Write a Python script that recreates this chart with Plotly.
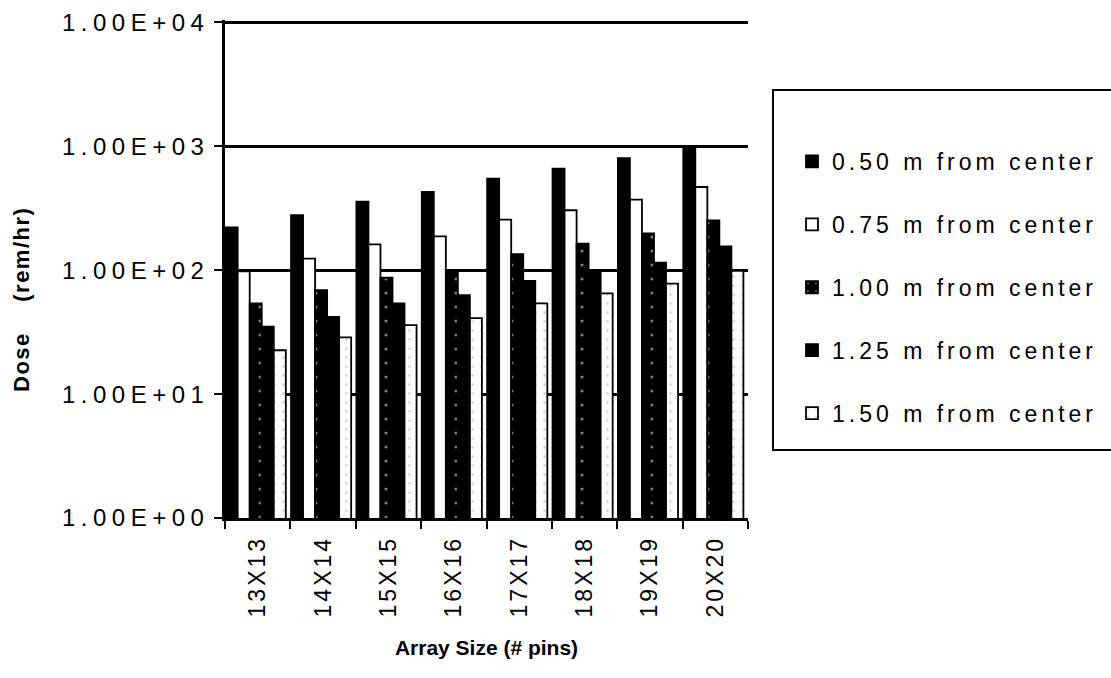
import plotly.graph_objects as go

categories = ["13X13", "14X14", "15X15", "16X16", "17X17", "18X18", "19X19", "20X20"]
series_names = ["0.50 m from center", "0.75 m from center", "1.00 m from center",
                "1.25 m from center", "1.50 m from center"]
dose_050 = [222, 279, 358, 428, 549, 661, 805, 990]
dose_075 = [98, 124, 162, 188, 256, 305, 371, 470]
dose_100 = [54, 69, 87, 100, 135, 164, 198, 253]
dose_125 = [35, 42, 54, 63, 82, 100, 115, 156]
dose_150 = [22.6, 28.7, 36, 41, 54, 65, 78, 99]
y_tick_vals = [1, 10, 100, 1000, 10000]
y_tick_text = ["1.00E+00", "1.00E+01", "1.00E+02", "1.00E+03", "1.00E+04"]

all_series = [dose_050, dose_075, dose_100, dose_125, dose_150]
fills = ["black", "white", "black", "black", "white"]
patterns = [
    None,
    None,
    dict(shape=".", fgcolor="white", bgcolor="black", size=14, solidity=0.04),
    None,
    dict(shape=".", fgcolor="#999999", bgcolor="white", size=9, solidity=0.06),
]

FONT = "Liberation Sans, Arial, Helvetica, sans-serif"


def spaced(text, px):
    return '<span style="letter-spacing:%spx">%s</span>' % (px, text)


# plot area in pixels
L, R, T, B = 225, 748, 20, 518
PW, PH = R - L, B - T


def px_x(p):
    return (p - L) / PW


def px_y(p):
    return (B - p) / PH


W = 0.184
fig = go.Figure()
for k, (name, vals) in enumerate(zip(series_names, all_series)):
    marker = dict(color=fills[k], line=dict(color="black", width=1.8))
    if patterns[k] is not None:
        marker["pattern"] = patterns[k]
    fig.add_trace(go.Bar(
        x=categories, y=vals, name=spaced(name, 4),
        width=W, offset=-0.5 + k * W + 0.01, marker=marker,
        legendgroup=f"g{k}",
    ))

fig.update_layout(
    width=1111, height=678,
    margin=dict(l=L, r=1111 - R, t=T, b=678 - B, autoexpand=False),
    paper_bgcolor="white", plot_bgcolor="white",
    barmode="overlay",
    font=dict(family=FONT, color="black", size=23),
    showlegend=True,
    legend=dict(
        x=px_x(792), y=px_y(140), xanchor="left", yanchor="top",
        font=dict(size=23, family=FONT, color="black"),
        tracegroupgap=30, bgcolor="rgba(0,0,0,0)", borderwidth=0,
        traceorder="grouped",
    ),
    shapes=[dict(type="rect", xref="paper", yref="paper",
                 x0=px_x(773), x1=px_x(1125),
                 y0=px_y(450), y1=px_y(90),
                 line=dict(color="black", width=2), fillcolor="rgba(0,0,0,0)")],
    annotations=[dict(
        text="<b>" + spaced("Dose\u00a0\u00a0\u00a0\u00a0(rem/hr)", 1.5) + "</b>",
        xref="paper", yref="paper", x=px_x(21), y=px_y(300),
        xanchor="center", yanchor="middle", textangle=-90, showarrow=False,
        font=dict(size=22, family=FONT, color="black"),
    )],
)

fig.update_yaxes(
    type="log", range=[0, 4.02],
    tickvals=y_tick_vals, ticktext=[spaced(t, 5.5) for t in y_tick_text],
    tickfont=dict(size=24, family=FONT, color="black"),
    showgrid=True, gridcolor="black", gridwidth=2.5,
    showline=True, linecolor="black", linewidth=2.5,
    ticks="outside", ticklen=8, tickwidth=2, tickcolor="black",
    ticklabelstandoff=0,
    zeroline=False,
)
fig.update_xaxes(
    type="category", range=[-0.5, 7.5],
    tickvals=categories, ticktext=[spaced(c, 3) for c in categories],
    tickangle=-90,
    tickfont=dict(size=23, family=FONT, color="black"),
    showline=True, linecolor="black", linewidth=2.5,
    ticks="outside", tickson="boundaries", ticklen=8, tickwidth=2, tickcolor="black",
    ticklabelstandoff=6,
    showgrid=False,
    title=dict(text="<b>Array Size (# pins)</b>",
               font=dict(size=21, family=FONT, color="black"), standoff=24),
)

fig.write_html("out.html", config={"displayModeBar": False},
               post_script="document.body.style.margin='0';document.body.style.padding='0';")
